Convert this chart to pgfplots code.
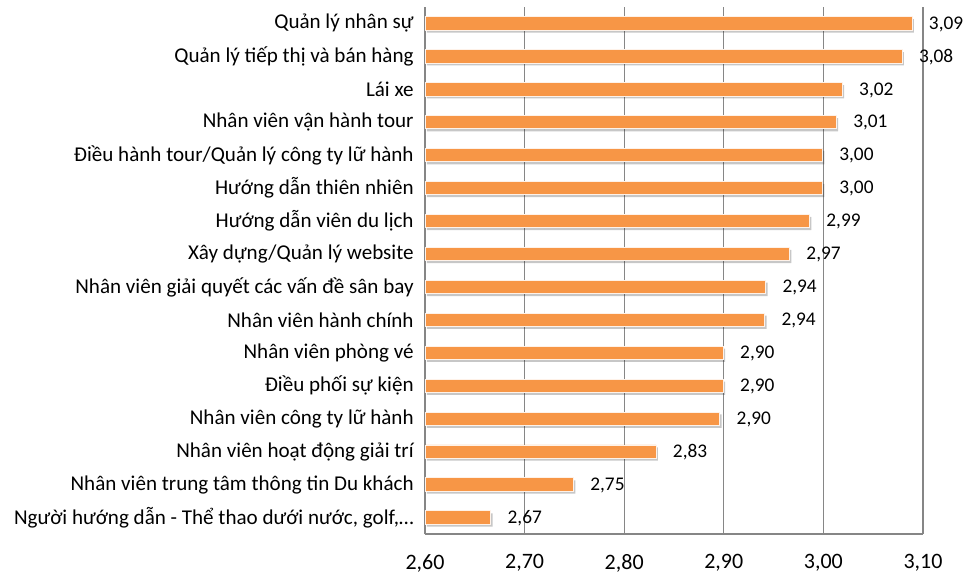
\documentclass[border=0pt]{standalone}
\usepackage{fontspec}
\setmainfont{Carlito}
\usepackage{pgfplots}
\pgfplotsset{compat=1.18}
\definecolor{barorange}{HTML}{F79646}
\definecolor{gridgray}{HTML}{868686}
\pgfplotstableread{
y  v
15 3.089
14 3.079
13 3.019
12 3.013
11 2.999
10 2.999
9  2.986
8  2.966
7  2.942
6  2.941
5  2.8995
4  2.8995
3  2.896
2  2.832
1  2.749
0  2.666
}\datatable
\begin{document}
\begin{tikzpicture}
\useasboundingbox (0,0) rectangle (727.5pt,432pt);
\begin{axis}[
  at={(318.75pt,31.5pt)}, anchor=south west,
  scale only axis, width=373.5pt, height=395.25pt,
  xmin=2.6, xmax=3.1, ymin=-0.5, ymax=15.5,
  clip=false,
  axis lines*=left,
  axis line style={-, draw=gridgray, line width=0.9pt},
  xmajorgrids,
  major grid style={draw=gridgray, line width=0.9pt},
  major tick length=0pt,
  xtick={2.6,2.7,2.8,2.9,3.0,3.1},
  xticklabel={\pgfmathprintnumber[fixed,fixed zerofill,precision=2,use comma,assume math mode=true]{\tick}},
  xticklabel style={font=\fontsize{16.5}{19}\selectfont, yshift=-12pt},
  ytick={0,1,...,15},
  yticklabels={
    {Người hướng dẫn - Thể thao dưới nước, golf,…},
    {Nhân viên trung tâm thông tin Du khách},
    {Nhân viên hoạt động giải trí},
    {Nhân viên công ty lữ hành},
    {Điều phối sự kiện},
    {Nhân viên phòng vé},
    {Nhân viên hành chính},
    {Nhân viên giải quyết các vấn đề sân bay},
    {Xây dựng/Quản lý website},
    {Hướng dẫn viên du lịch},
    {Hướng dẫn thiên nhiên},
    {Điều hành tour/Quản lý công ty lữ hành},
    {Nhân viên vận hành tour},
    {Lái xe},
    {Quản lý tiếp thị và bán hàng},
    {Quản lý nhân sự}},
  yticklabel style={font=\fontsize{15.8}{19}\selectfont, xshift=-5pt},
]
% shadow
\addplot[xbar, bar shift=0pt, bar width=10pt, fill=black, fill opacity=0.22, draw=none,
  xshift=1.4pt, yshift=-1.8pt] table[x=v, y=y] {\datatable};
% bars
\addplot[xbar, bar shift=0pt, bar width=10pt, fill=barorange, draw=white!88!barorange, line width=0.7pt,
  point meta=x,
  nodes near coords={\pgfmathprintnumber[fixed,fixed zerofill,precision=2,use comma,assume math mode=true]{\pgfplotspointmeta}},
  nodes near coords style={anchor=west, xshift=9pt, yshift=-0.5pt, font=\fontsize{14.5}{17}\selectfont, text=black}
] table[x=v, y=y] {\datatable};
\end{axis}
\end{tikzpicture}
\end{document}
